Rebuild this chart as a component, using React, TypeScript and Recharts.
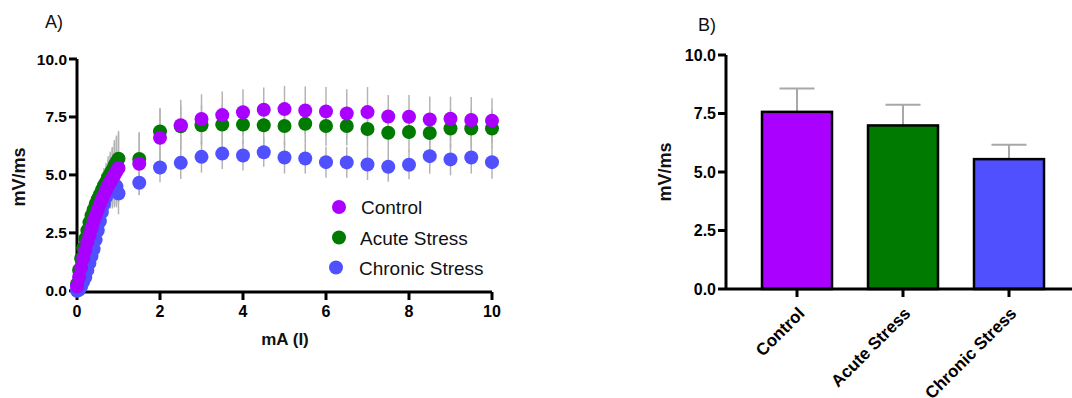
import React from 'react';
import { ScatterChart, Scatter, BarChart, Bar, Cell, XAxis, YAxis, ErrorBar } from 'recharts';

const FONT = '"Liberation Sans", Arial, sans-serif';
const PURPLE = '#aa00ff';
const GREEN = '#007a00';
const BLUE = '#5050ff';

// panel A: current (mA) vs slope (mV/ms)
const currents = [
  0, 0.05, 0.1, 0.15, 0.2, 0.25, 0.3, 0.35, 0.4, 0.45, 0.5, 0.55, 0.6, 0.65, 0.7, 0.75, 0.8, 0.85, 0.9, 0.95, 1.0,
  1.5, 2, 2.5, 3, 3.5, 4, 4.5, 5, 5.5, 6, 6.5, 7, 7.5, 8, 8.5, 9, 9.5, 10,
];
const controlMean = [
  0.2, 0.6, 1.0, 1.4, 1.75, 2.1, 2.4, 2.7, 3.0, 3.25, 3.5, 3.75, 3.95, 4.15, 4.35, 4.55, 4.7, 4.85, 5.0, 5.15, 5.3,
  5.48, 6.6, 7.14, 7.41, 7.58, 7.7, 7.81, 7.84, 7.78, 7.74, 7.65, 7.71, 7.52, 7.51, 7.39, 7.42, 7.37, 7.34,
];
const controlSem = [
  0.05, 0.1, 0.2, 0.2, 0.3, 0.3, 0.4, 0.45, 0.5, 0.6, 0.65, 0.75, 0.8, 0.9, 1.0, 1.1, 1.15, 1.3, 1.4, 1.45, 1.5,
  1.35, 1.28, 1.1, 1.07, 1.02, 1.0, 0.96, 1.0, 1.03, 1.05, 1.05, 1.08, 0.93, 0.94, 0.99, 0.96, 0.99, 0.97,
];
const acuteMean = [
  0.3, 0.9, 1.4, 1.85, 2.25, 2.6, 2.95, 3.25, 3.5, 3.75, 3.95, 4.15, 4.35, 4.55, 4.7, 4.9, 5.05, 5.2, 5.4, 5.55, 5.7,
  5.69, 6.87, 7.1, 7.14, 7.17, 7.17, 7.14, 7.11, 7.21, 7.11, 7.11, 6.98, 6.82, 6.85, 6.81, 7.0, 7.0, 7.0,
];
const acuteSem = [
  0.05, 0.1, 0.15, 0.2, 0.25, 0.3, 0.35, 0.4, 0.45, 0.5, 0.55, 0.6, 0.7, 0.75, 0.8, 0.9, 0.95, 1.0, 1.1, 1.15, 1.2,
  1.15, 1.0, 0.9, 0.88, 0.86, 0.85, 0.85, 0.84, 0.86, 0.85, 0.84, 0.85, 0.83, 0.84, 0.85, 0.84, 0.85, 0.84,
];
const chronicMean = [
  0, 0.05, 0.2, 0.4, 0.6, 0.9, 1.2, 1.5, 1.8, 2.2, 2.6, 3.0, 3.4, 3.75, 4.05, 4.3, 4.5, 4.6, 4.6, 4.5, 4.2,
  4.66, 5.32, 5.52, 5.78, 5.92, 5.84, 5.98, 5.75, 5.71, 5.55, 5.54, 5.45, 5.35, 5.44, 5.81, 5.67, 5.75, 5.55,
];
const chronicSem = [
  0.05, 0.05, 0.1, 0.15, 0.2, 0.25, 0.3, 0.35, 0.4, 0.45, 0.5, 0.55, 0.6, 0.65, 0.7, 0.75, 0.8, 0.85, 0.9, 0.9, 0.9,
  0.54, 0.64, 0.7, 0.68, 0.66, 0.65, 0.63, 0.69, 0.65, 0.67, 0.66, 0.67, 0.64, 0.63, 0.76, 0.69, 0.69, 0.71,
];

// panel B: peak slope per group
const groups = ['Control', 'Acute Stress', 'Chronic Stress'];
const peakMean = [7.57, 6.99, 5.55];
const peakSem = [1.0, 0.88, 0.61];
const groupColors = [PURPLE, GREEN, BLUE];

const yTicks = [0, 2.5, 5, 7.5, 10];
const xTicks = [0, 2, 4, 6, 8, 10];

const toPoints = (mean: number[], sem: number[]) =>
  currents.map((x, i) => ({ x, y: mean[i], e: sem[i] }));

const series = [
  { name: 'Chronic Stress', color: BLUE, data: toPoints(chronicMean, chronicSem) },
  { name: 'Acute Stress', color: GREEN, data: toPoints(acuteMean, acuteSem) },
  { name: 'Control', color: PURPLE, data: toPoints(controlMean, controlSem) },
];

const barData = groups.map((name, i) => ({ name, value: peakMean[i], sem: peakSem[i] }));

const axisLine = { stroke: '#000', strokeWidth: 3 };
const tickLine = { stroke: '#000', strokeWidth: 3 };

const legendRows = [
  { name: 'Control', color: PURPLE, cx: 339, cy: 207, tx: 361, ty: 214 },
  { name: 'Acute Stress', color: GREEN, cx: 339, cy: 237.5, tx: 360, ty: 244.5 },
  { name: 'Chronic Stress', color: BLUE, cx: 336, cy: 267.5, tx: 359, ty: 274.5 },
];

// bar with an upward-only SEM whisker drawn behind it (GraphPad style)
const BarWithSem = (p: any) => {
  const { x, y, width, height, fill, payload } = p;
  const pxPerUnit = height / payload.value;
  const top = y - payload.sem * pxPerUnit;
  const cx = x + width / 2;
  return (
    <g>
      <line x1={cx} x2={cx} y1={y} y2={top} stroke="#a8a8a8" strokeWidth={2} />
      <line x1={cx - 17.5} x2={cx + 17.5} y1={top} y2={top} stroke="#a8a8a8" strokeWidth={2} />
      <rect x={x} y={y} width={width} height={height} fill={fill} stroke="#000" strokeWidth={2.5} />
    </g>
  );
};

export default function App() {
  return (
    <div style={{ position: 'absolute', left: 0, top: 0, width: 1072, height: 398, background: '#fff', overflow: 'hidden', fontFamily: FONT }}>
      <div style={{ position: 'absolute', left: 0, top: 0 }}>
        <ScatterChart width={560} height={398} margin={{ top: 59, right: 68, bottom: 0, left: 0 }}>
          <XAxis
            type="number"
            dataKey="x"
            domain={[0, 10]}
            ticks={xTicks}
            height={106}
            axisLine={axisLine}
            tickLine={tickLine}
            tickSize={8}
            tickMargin={6}
            tick={{ fill: '#000', fontSize: 16, fontWeight: 'bold', fontFamily: FONT }}
          />
          <YAxis
            type="number"
            dataKey="y"
            domain={[0, 10]}
            ticks={yTicks}
            width={77}
            axisLine={axisLine}
            tickLine={tickLine}
            tickSize={8}
            tickMargin={2}
            tickFormatter={(v: number) => v.toFixed(1)}
            tick={{ fill: '#000', fontSize: 15.5, fontWeight: 'bold', fontFamily: FONT }}
          />
          {series.map((s) => (
            <Scatter
              key={s.name}
              name={s.name}
              data={s.data}
              fill={s.color}
              isAnimationActive={false}
              shape={(p: any) => <circle cx={p.cx} cy={p.cy} r={7} fill={s.color} />}
            >
              <ErrorBar dataKey="e" direction="y" width={0} stroke="#b4b4b4" strokeWidth={1.5} />
            </Scatter>
          ))}
        </ScatterChart>
      </div>

      <div style={{ position: 'absolute', left: 560, top: 0 }}>
        <BarChart width={512} height={398} data={barData} margin={{ top: 55, right: 0, bottom: 0, left: 0 }}>
          <XAxis
            dataKey="name"
            height={109}
            padding={{ left: 18, right: 10 }}
            axisLine={axisLine}
            tickLine={tickLine}
            tickSize={8}
            tickMargin={9}
            interval={0}
            angle={-45}
            textAnchor="end"
            tick={{ fill: '#000', fontSize: 17, fontWeight: 'bold', fontFamily: FONT }}
          />
          <YAxis
            domain={[0, 10]}
            ticks={yTicks}
            width={166}
            axisLine={axisLine}
            tickLine={tickLine}
            tickSize={8}
            tickMargin={2}
            tickFormatter={(v: number) => v.toFixed(1)}
            tick={{ fill: '#000', fontSize: 16, fontWeight: 'bold', fontFamily: FONT }}
          />
          <Bar dataKey="value" barSize={70} shape={BarWithSem} isAnimationActive={false}>
            {barData.map((d, i) => (
              <Cell key={d.name} fill={groupColors[i]} />
            ))}
          </Bar>
        </BarChart>
      </div>

      <svg width={1072} height={398} style={{ position: 'absolute', left: 0, top: 0, pointerEvents: 'none' }}>
        <g fontFamily={FONT} fill="#111">
          <text x={45} y={28} fontSize={18}>A)</text>
          <text x={698} y={31} fontSize={18}>B)</text>
          <text transform="translate(25,177) rotate(-90)" textAnchor="middle" fontSize={18} fontWeight="bold">mV/ms</text>
          <text transform="translate(671,172) rotate(-90)" textAnchor="middle" fontSize={18} fontWeight="bold">mV/ms</text>
          <text x={285} y={345} textAnchor="middle" fontSize={17} fontWeight="bold">mA (I)</text>
          {legendRows.map((r) => (
            <g key={r.name}>
              <circle cx={r.cx} cy={r.cy} r={7} fill={r.color} />
              <text x={r.tx} y={r.ty} fontSize={19}>{r.name}</text>
            </g>
          ))}
        </g>
      </svg>
    </div>
  );
}
